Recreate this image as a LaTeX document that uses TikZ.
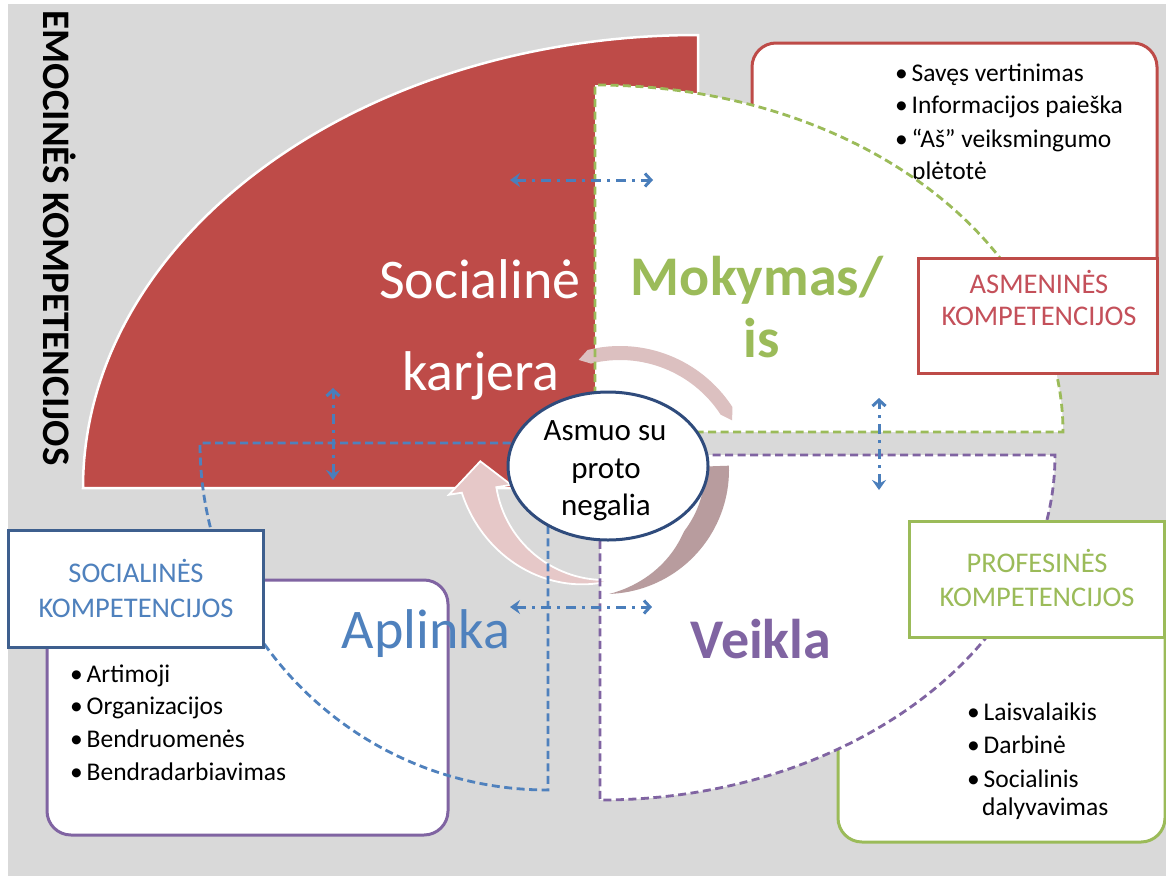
\documentclass[tikz,border=0pt]{standalone}
\usepackage{fontspec}
\setmainfont{Carlito}
\usetikzlibrary{arrows.meta,calc,shapes.geometric}
\definecolor{bggray}{HTML}{D9D9D9}
\definecolor{socred}{HTML}{BE4B48}
\definecolor{mokgreen}{HTML}{9BBB59}
\definecolor{veikpurple}{HTML}{8064A2}
\definecolor{aplblue}{HTML}{4F81BD}
\definecolor{boxblue}{HTML}{3E5F8E}
\definecolor{ellblue}{HTML}{2F4B7C}
\definecolor{arrblue}{HTML}{4A7EBB}
\definecolor{pinkA}{HTML}{E6C8C8}
\definecolor{pinkB}{HTML}{DCC0C0}
\definecolor{mauve}{HTML}{B89C9E}
\definecolor{asmred}{HTML}{C4505A}
\newcommand{\fsz}[1]{\fontsize{#1}{#1}\selectfont}
\newcommand{\bul}{\makebox[16.5pt][l]{\textbullet}}
\tikzset{
  bigtext/.style={font={\fsz{56}}, anchor=base, inner sep=0pt},
  listtext/.style={font={\fsz{25.5}}, anchor=base west, inner sep=0pt, text=black},
  comptext/.style={font={\fsz{28.5}}, anchor=base, inner sep=0pt},
  compbox/.style={line width=3pt, fill=white},
  listbox/.style={line width=3pt, fill=white, rounded corners=24pt},
  quaddash/.style={line width=2.8pt, dash pattern=on 8pt off 4.5pt},
  dasharrow/.style={draw=arrblue, line width=3pt, dash pattern=on 10pt off 6pt on 3pt off 6pt,
    {Stealth[length=10pt,width=14pt,inset=3.5pt]}-{Straight Barb[length=6pt,width=13pt]}},
  centertext/.style={font={\fsz{31}}, anchor=base, inner sep=0pt, text=black},
}
\begin{document}
\begin{tikzpicture}[x=1pt,y=1pt]
\useasboundingbox (0,0) rectangle (1166,-876);
\fill[white] (0,0) rectangle (1166,-876);
\fill[bggray] (8,-4) rectangle (1166,-876);

% red sector
\filldraw[fill=socred, draw=white, line width=2.5pt]
  (698,-488) -- (83,-488) arc[start angle=180, end angle=90, x radius=615, y radius=453] -- cycle;

% list boxes
\draw[listbox, draw=socred] (752,-43) rectangle (1157,-360);
\node[listtext] (l1) at (895,-81) {\bul Savęs vertinimas};
\node[listtext] (l2) at (895,-113) {\bul Informacijos paieška};
\node[listtext] (l3) at (895,-147) {\bul “Aš” veiksmingumo};
\node[listtext] (l4) at (912,-179) {plėtotė};

\draw[listbox, draw=mokgreen] (838,-540) rectangle (1165,-842);
\node[listtext] (p1) at (967,-720) {\bul Laisvalaikis};
\node[listtext] (p2) at (967,-753) {\bul Darbinė};
\node[listtext] (p3) at (967,-787) {\bul Socialinis};
\node[listtext] (p4) at (982,-815) {dalyvavimas};

\draw[listbox, draw=veikpurple] (47,-580) rectangle (448,-835);
\node[listtext] (a1) at (70,-682) {\bul Artimoji};
\node[listtext] (a2) at (70,-714) {\bul Organizacijos};
\node[listtext] (a3) at (70,-747) {\bul Bendruomenės};
\node[listtext] (a4) at (70,-780) {\bul Bendradarbiavimas};

% white quadrants
\fill[white] (595,-432) -- (595,-85) arc[start angle=90, end angle=0, x radius=468, y radius=347] -- cycle;
\fill[white] (600,-455) -- (1055,-455) arc[start angle=0, end angle=-90, x radius=455, y radius=345] -- cycle;

% big labels
\node[bigtext, text=white] (soc1) at (480,-298) {Socialinė};
\node[bigtext, text=white] (soc2) at (481,-390) {karjera};
\node[bigtext, text=mokgreen, font={\fsz{56}\bfseries}] (mok1) at (757,-295) {Mokymas/};
\node[bigtext, text=mokgreen, font={\fsz{56}\bfseries}] (mok2) at (762,-357) {is};
\node[bigtext, text=aplblue] (apl) at (426,-648) {Aplinka};
\node[bigtext, text=veikpurple, font={\fsz{56}\bfseries}] (veik) at (761,-658) {Veikla};

% cycle arrows
\coordinate (C1) at (605,-470);
\coordinate (C2) at (620,-480);
\fill[pinkB] ($(C2)+(109:127)$) -- ($(C2)+(104:134)$) arc[start angle=104, end angle=33, radius=134]
  -- ($(C2)+(28:127)$) -- ($(C2)+(33:120)$) arc[start angle=33, end angle=104, radius=120] -- cycle;
\fill[mauve] plot[domain=0:90, samples=40] ({605+124*cos(2-\x)}, {-470+124*sin(2-\x)})
  -- plot[domain=0:90, samples=40] ({605+(124-24*min(1,\x/50))*cos(-88+\x)}, {-470+(124-24*min(1,\x/50))*sin(-88+\x)}) -- cycle;
\filldraw[fill=pinkA, draw=white, line width=1.8pt]
  ($(C1)+(176:125)$) -- ($(C1)+(189:158)$) -- ($(C1)+(189:145)$)
  -- plot[domain=189:270, samples=40] ({605+(145-33*(\x-189)/81)*cos(\x)}, {-470+(145-33*(\x-189)/81)*sin(\x)})
  -- ($(C1)+(270:110)$) arc[start angle=270, end angle=189, radius=110]
  -- ($(C1)+(189:95)$) -- cycle;

% dashed outlines
\draw[quaddash, draw=mokgreen] (595,-432) -- (595,-85) arc[start angle=90, end angle=0, x radius=468, y radius=347] -- cycle;
\draw[quaddash, draw=veikpurple] (600,-455) -- (1055,-455) arc[start angle=0, end angle=-90, x radius=455, y radius=345] -- cycle;
\draw[quaddash, draw=aplblue] (548,-443) -- (200,-443) arc[start angle=180, end angle=270, x radius=348, y radius=347] -- cycle;

% center ellipse
\node[ellipse, draw=ellblue, line width=3pt, fill=white, minimum width=200pt, minimum height=148pt, inner sep=0pt] (asmuo) at (608,-466) {};
\node[centertext] (as1) at (605,-440) {Asmuo su};
\node[centertext] (as2) at (606,-478) {proto};
\node[centertext] (as3) at (606,-515) {negalia};

% competence boxes
\draw[compbox, draw=socred] (918,-258) rectangle (1157,-373);
\node[comptext, text=asmred] (asm1) at (1039,-293) {ASMENINĖS};
\node[comptext, text=asmred] (asm2) at (1039,-325) {KOMPETENCIJOS};

\draw[compbox, draw=boxblue] (8,-530) rectangle (263,-647);
\node[comptext, text=aplblue] (sc1) at (136,-582) {SOCIALINĖS};
\node[comptext, text=aplblue] (sc2) at (136,-617) {KOMPETENCIJOS};

\draw[compbox, draw=mokgreen] (909,-521) rectangle (1164,-637);
\node[comptext, text=mokgreen] (pr1) at (1037,-572) {PROFESINĖS};
\node[comptext, text=mokgreen] (pr2) at (1037,-606) {KOMPETENCIJOS};

% double arrows
\coordinate (h1a) at (510,-180); \coordinate (h1b) at (653,-180);
\coordinate (h2a) at (510,-607); \coordinate (h2b) at (652,-607);
\coordinate (v1a) at (333,-480); \coordinate (v1b) at (333,-388);
\coordinate (v2a) at (879,-490); \coordinate (v2b) at (879,-398);
\draw[dasharrow] (h1a) -- (h1b);
\draw[dasharrow] (h2a) -- (h2b);
\draw[dasharrow] (v1a) -- (v1b);
\draw[dasharrow] (v2a) -- (v2b);

% vertical title
\node[rotate=-90, anchor=base, inner sep=0pt, font={\fsz{39}\bfseries}] (emo) at (43,-238) {EMOCINĖS KOMPETENCIJOS};
\end{tikzpicture}
\end{document}
